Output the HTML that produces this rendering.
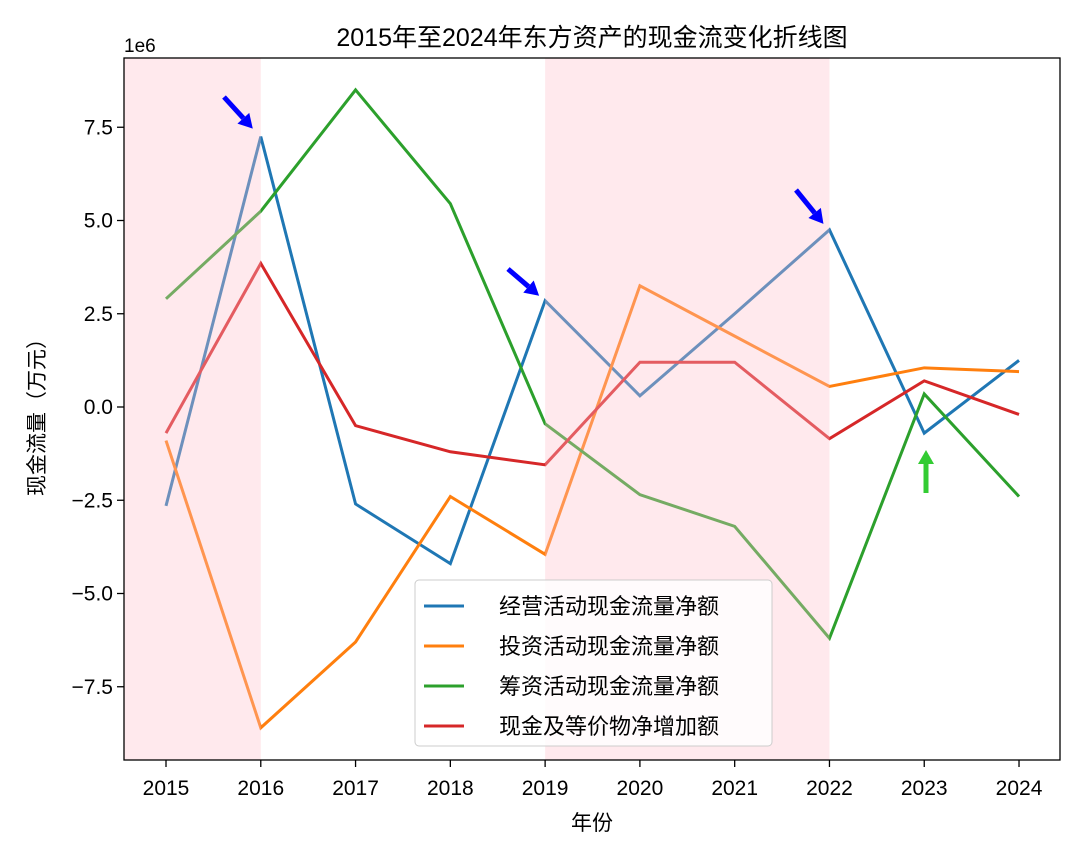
<!DOCTYPE html>
<html><head><meta charset="utf-8"><style>
body{margin:0;background:#fff}
svg text{font-family:"Liberation Sans","Noto Sans CJK SC",sans-serif;fill:#000}
</style></head><body>
<svg id="chart" width="1080" height="854" viewBox="0 0 1080 854">
<text x="592" y="46" font-size="25" text-anchor="middle">2015年至2024年东方资产的现金流变化折线图</text>
<text x="124" y="52" font-size="19">1e6</text>
<text x="592" y="830" font-size="21" text-anchor="middle">年份</text>
<text transform="translate(44,412) rotate(-90)" font-size="21" text-anchor="middle">现金流量（万元）</text>
<g id="lines"></g><g id="shades"></g><g id="axes"></g><g id="arrows"></g>
<rect x="124" y="58" width="936" height="702" fill="none" stroke="#000" stroke-width="1.3"/>
<g id="legend"></g>
</svg>
<script>
const years=[2015,2016,2017,2018,2019,2020,2021,2022,2023,2024];
const operating=[-2.65,7.25,-2.6,-4.2,2.85,0.3,2.5,4.75,-0.7,1.25];
const investing=[-0.9,-8.6,-6.3,-2.4,-3.95,3.25,1.9,0.55,1.05,0.95];
const financing=[2.9,5.25,8.5,5.45,-0.45,-2.35,-3.2,-6.2,0.35,-2.4];
const netChange=[-0.7,3.85,-0.5,-1.2,-1.55,1.2,1.2,-0.85,0.7,-0.2];
const yTicks=[-7.5,-5.0,-2.5,0.0,2.5,5.0,7.5];
const seriesNames=["经营活动现金流量净额","投资活动现金流量净额","筹资活动现金流量净额","现金及等价物净增加额"];
const shadeRanges=[[2014.55,2016],[2019,2022]];
const NS="http://www.w3.org/2000/svg";
const xs=y=>166+(y-2015)*94.78;
const ys=v=>407-v*37.3;
function mk(t,a,p){const e=document.createElementNS(NS,t);for(const k in a)e.setAttribute(k,a[k]);p.appendChild(e);return e;}
const colors=["#1f77b4","#ff7f0e","#2ca02c","#d62728"];
const data=[operating,investing,financing,netChange];
const keys=["operating","investing","financing","net-change"];
const L=document.getElementById('lines');
data.forEach((s,i)=>{const p=mk('polyline',{points:s.map((v,j)=>xs(years[j])+','+ys(v)).join(' '),fill:'none',stroke:colors[i],'stroke-width':3},L);

});
const S=document.getElementById('shades');
shadeRanges.forEach((r,i)=>{const e=mk('rect',{x:Math.max(124,xs(r[0])),y:58,width:xs(r[1])-Math.max(124,xs(r[0])),height:702,fill:'#ffc0cb',opacity:0.35},S);

});
const A=document.getElementById('axes');
years.forEach(y=>{mk('line',{x1:xs(y),x2:xs(y),y1:760,y2:767,stroke:'#000','stroke-width':1.3},A);
const t=mk('text',{x:xs(y),y:795,'font-size':21,'text-anchor':'middle'},A);t.textContent=y;

});
yTicks.forEach(v=>{mk('line',{x1:117,x2:124,y1:ys(v),y2:ys(v),stroke:'#000','stroke-width':1.3},A);
const t=mk('text',{x:113,y:ys(v)+7,'font-size':21,'text-anchor':'end'},A);t.textContent=(v<0?'−':'')+Math.abs(v).toFixed(1);

});
const AR=document.getElementById('arrows');
function arrow(x1,y1,x2,y2,c,n){const g=mk('g',{},AR);
const dx=x2-x1,dy=y2-y1,l=Math.hypot(dx,dy),ux=dx/l,uy=dy/l,h=14;
mk('line',{x1:x1,y1:y1,x2:x2-ux*h,y2:y2-uy*h,stroke:c,'stroke-width':5},g);
mk('polygon',{points:`${x2},${y2} ${x2-ux*h-uy*8},${y2-uy*h+ux*8} ${x2-ux*h+uy*8},${y2-uy*h-ux*8}`,fill:c},g);}
arrow(224,97,xs(2016)-8,ys(operating[1])-8,'#0000ff','arrow-2016-peak');
arrow(508,269,xs(2019)-6,ys(operating[4])-5,'#0000ff','arrow-2019');
arrow(796,190,xs(2022)-6,ys(operating[7])-6,'#0000ff','arrow-2022-peak');
arrow(926,493,926,450,'#33cc33','arrow-2023-financing');
const G=document.getElementById('legend');
mk('rect',{x:415,y:580,width:357,height:166,rx:4,fill:'#fff','fill-opacity':0.8,stroke:'#ccc'},G);
seriesNames.forEach((n,i)=>{const yy=606+i*40;mk('line',{x1:424,x2:464,y1:yy,y2:yy,stroke:colors[i],'stroke-width':3},G);
const t=mk('text',{x:499,y:yy+8,'font-size':22},G);t.textContent=n;

});
</script>
</body></html>
